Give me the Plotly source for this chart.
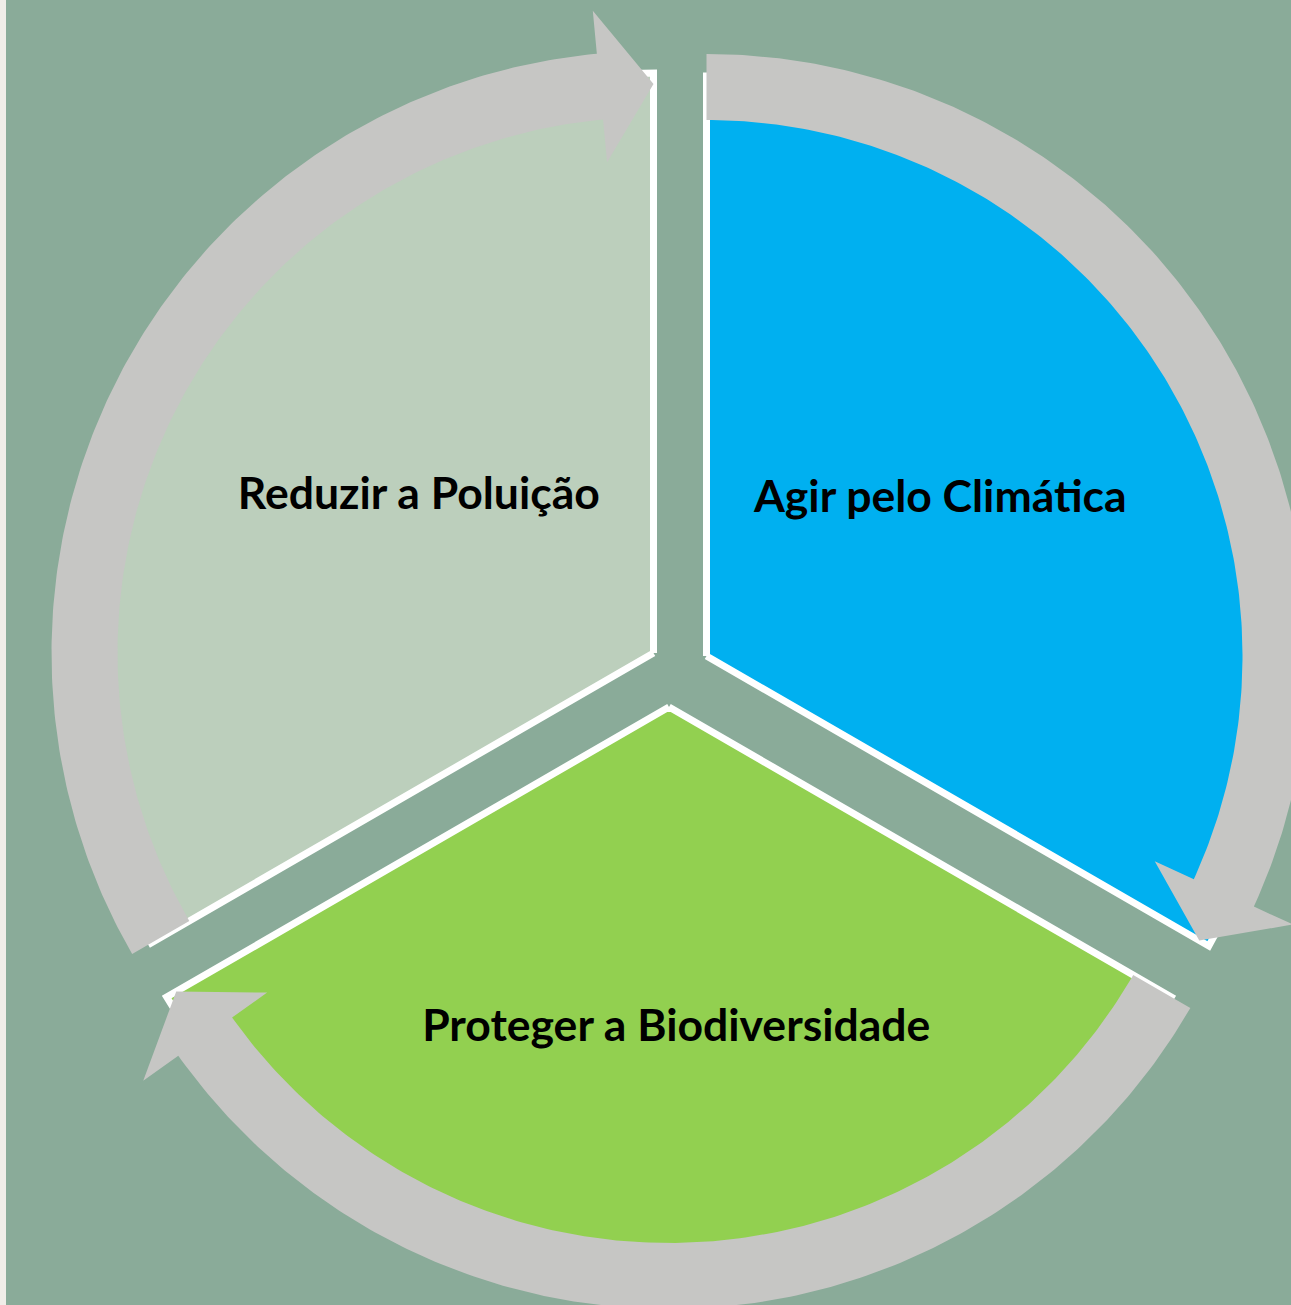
import numpy as np
import plotly.graph_objects as go

# ---- data ----
labels = ["Agir pelo Climática", "Proteger a Biodiversidade", "Reduzir a Poluição"]
values = [1, 1, 1]

# ---- styles / layout geometry (pixels) ----
colors = ["#00b0f0", "#92d050", "#bccfbc"]
ring_color = "#c6c6c4"
bg_color = "#8aab99"
paper_color = "#f0ede8"
W, H = 1291, 1305
centers = [(706.5, 656.0), (669.0, 707.0), (653.5, 653.0)]  # pulled-out slice apexes
R_SLICE = 580
R_IN, R_OUT = 536, 602
R_HIN, R_HOUT = 493, 645
HEAD_DEG = 5.4
label_r = [282, 320, 283]
label_shift = [-4, -1.3, 4]
LABEL_DY = 3
FONT_SIZE = 44.5


def pt(c, r, deg):
    a = np.radians(deg)
    return c[0] + r * np.sin(a), c[1] - r * np.cos(a)


total = sum(values)
bounds = np.concatenate([[0], np.cumsum(values)]) / total * 360.0

fig = go.Figure()

# slices
for i, lab in enumerate(labels):
    a0, a1 = bounds[i], bounds[i + 1]
    c = centers[i]
    angs = np.linspace(a0, a1, 200)
    xs = [c[0]] + [pt(c, R_SLICE, a)[0] for a in angs] + [c[0]]
    ys = [c[1]] + [pt(c, R_SLICE, a)[1] for a in angs] + [c[1]]
    fig.add_trace(go.Scatter(x=xs, y=ys, mode="lines", fill="toself",
                             fillcolor=colors[i],
                             line=dict(color="white", width=7),
                             hoverinfo="skip", showlegend=False))

# circular arrows
for i, lab in enumerate(labels):
    a0, a1 = bounds[i], bounds[i + 1]
    c = centers[i]
    hb = a1 - HEAD_DEG
    outer = np.linspace(a0, hb, 200)
    inner = outer[::-1]
    pts = [pt(c, R_OUT, a) for a in outer]
    pts += [pt(c, R_HOUT, hb), pt(c, (R_IN + R_OUT) / 2, a1), pt(c, R_HIN, hb)]
    pts += [pt(c, R_IN, a) for a in inner]
    pts.append(pts[0])
    fig.add_trace(go.Scatter(x=[p[0] for p in pts], y=[p[1] for p in pts],
                             mode="lines", fill="toself", fillcolor=ring_color,
                             line=dict(width=0, color=ring_color),
                             hoverinfo="skip", showlegend=False))

# labels
for i, lab in enumerate(labels):
    mid = (bounds[i] + bounds[i + 1]) / 2 + label_shift[i]
    x, y = pt(centers[i], label_r[i], mid)
    fig.add_trace(go.Scatter(x=[x], y=[y + LABEL_DY], mode="text", text=[lab],
                             textposition="middle center",
                             textfont=dict(family="Lato", size=FONT_SIZE, color="black", weight="bold"),
                             hoverinfo="skip", showlegend=False))

fig.update_layout(
    width=W, height=H,
    margin=dict(l=6, r=0, t=0, b=0),
    paper_bgcolor=paper_color, plot_bgcolor=bg_color,
    xaxis=dict(range=[6, W], visible=False, fixedrange=True),
    yaxis=dict(range=[H, 0], visible=False, fixedrange=True),
)

fig.write_html("out.html", config={"displayModeBar": False},
               post_script="document.body.style.margin='0';")
